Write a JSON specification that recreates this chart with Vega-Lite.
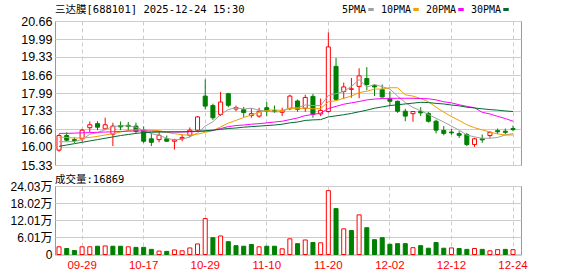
{
"$schema":"https://vega.github.io/schema/vega-lite/v6.json",
"padding":{"left":9,"top":4,"right":0,"bottom":0},
"background":"white",
"bounds":"flush",
"spacing":21,
"config":{
"font":"Liberation Sans, Noto Sans CJK SC",
"view":{"stroke":"#999999","strokeWidth":1},
"axis":{"domain":false,"ticks":false,"gridColor":"#cccccc","gridWidth":1,"labelColor":"#000000","labelFont":"Liberation Sans, Noto Sans CJK SC","labelOverlap":false,"labelFlush":false},
"title":{"font":"DejaVu Sans Mono, Noto Sans CJK SC","fontSize":10.5,"fontWeight":"normal","color":"#000000","anchor":"start","frame":"group"}
},
"datasets":{"k":[
{"d":"09-24","o":15.88,"h":16.48,"l":15.82,"c":16.42,"v":2.7,"cd":"up","vd":"up","5PMA":16.19,"10PMA":16.36,"20PMA":16.50,"30PMA":16.02},
{"d":"09-25","o":16.42,"h":16.54,"l":16.20,"c":16.25,"v":2.1,"cd":"dn","vd":"dn","5PMA":16.19,"10PMA":16.35,"20PMA":16.50,"30PMA":16.07},
{"d":"09-26","o":16.27,"h":16.35,"l":16.15,"c":16.23,"v":1.4,"cd":"dn","vd":"dn","5PMA":16.20,"10PMA":16.33,"20PMA":16.51,"30PMA":16.12},
{"d":"09-29","o":16.30,"h":16.67,"l":16.20,"c":16.62,"v":2.7,"cd":"up","vd":"up","5PMA":16.27,"10PMA":16.33,"20PMA":16.52,"30PMA":16.17},
{"d":"09-30","o":16.71,"h":16.94,"l":16.55,"c":16.82,"v":2.7,"cd":"up","vd":"up","5PMA":16.47,"10PMA":16.35,"20PMA":16.53,"30PMA":16.22},
{"d":"10-09","o":16.86,"h":16.95,"l":16.62,"c":16.73,"v":2.9,"cd":"dn","vd":"dn","5PMA":16.53,"10PMA":16.39,"20PMA":16.54,"30PMA":16.27},
{"d":"10-10","o":16.67,"h":17.08,"l":16.62,"c":16.82,"v":3.0,"cd":"up","vd":"up","5PMA":16.64,"10PMA":16.44,"20PMA":16.55,"30PMA":16.32},
{"d":"10-13","o":16.47,"h":16.89,"l":16.03,"c":16.77,"v":2.9,"cd":"up","vd":"dn","5PMA":16.75,"10PMA":16.49,"20PMA":16.56,"30PMA":16.37},
{"d":"10-14","o":16.79,"h":16.94,"l":16.62,"c":16.74,"v":2.9,"cd":"dn","vd":"dn","5PMA":16.78,"10PMA":16.55,"20PMA":16.57,"30PMA":16.42},
{"d":"10-15","o":16.80,"h":16.92,"l":16.60,"c":16.76,"v":2.7,"cd":"dn","vd":"up","5PMA":16.78,"10PMA":16.61,"20PMA":16.58,"30PMA":16.46},
{"d":"10-16","o":16.77,"h":16.90,"l":16.50,"c":16.57,"v":2.5,"cd":"dn","vd":"dn","5PMA":16.73,"10PMA":16.63,"20PMA":16.59,"30PMA":16.50},
{"d":"10-17","o":16.62,"h":16.76,"l":16.14,"c":16.21,"v":2.5,"cd":"dn","vd":"dn","5PMA":16.61,"10PMA":16.63,"20PMA":16.59,"30PMA":16.53},
{"d":"10-20","o":16.30,"h":16.52,"l":16.03,"c":16.17,"v":1.8,"cd":"dn","vd":"dn","5PMA":16.49,"10PMA":16.62,"20PMA":16.58,"30PMA":16.54},
{"d":"10-21","o":16.27,"h":16.58,"l":16.17,"c":16.43,"v":1.2,"cd":"up","vd":"up","5PMA":16.43,"10PMA":16.60,"20PMA":16.57,"30PMA":16.55},
{"d":"10-22","o":16.30,"h":16.42,"l":16.18,"c":16.21,"v":1.1,"cd":"dn","vd":"dn","5PMA":16.32,"10PMA":16.54,"20PMA":16.56,"30PMA":16.55},
{"d":"10-23","o":16.21,"h":16.30,"l":15.90,"c":16.26,"v":1.6,"cd":"up","vd":"up","5PMA":16.26,"10PMA":16.49,"20PMA":16.55,"30PMA":16.56},
{"d":"10-24","o":16.30,"h":16.45,"l":16.21,"c":16.35,"v":1.3,"cd":"up","vd":"up","5PMA":16.28,"10PMA":16.45,"20PMA":16.55,"30PMA":16.56},
{"d":"10-27","o":16.43,"h":16.72,"l":16.35,"c":16.62,"v":2.3,"cd":"up","vd":"up","5PMA":16.37,"10PMA":16.43,"20PMA":16.56,"30PMA":16.57},
{"d":"10-28","o":16.62,"h":17.14,"l":16.56,"c":17.11,"v":3.7,"cd":"up","vd":"up","5PMA":16.51,"10PMA":16.47,"20PMA":16.57,"30PMA":16.58},
{"d":"10-29","o":17.88,"h":18.50,"l":17.39,"c":17.51,"v":12.6,"cd":"dn","vd":"up","5PMA":16.77,"10PMA":16.54,"20PMA":16.58,"30PMA":16.60},
{"d":"10-30","o":17.53,"h":17.60,"l":17.00,"c":17.08,"v":5.9,"cd":"dn","vd":"dn","5PMA":16.93,"10PMA":16.60,"20PMA":16.61,"30PMA":16.62},
{"d":"10-31","o":17.20,"h":18.04,"l":17.14,"c":17.66,"v":6.5,"cd":"up","vd":"up","5PMA":17.20,"10PMA":16.74,"20PMA":16.68,"30PMA":16.65},
{"d":"11-03","o":17.97,"h":18.00,"l":17.47,"c":17.54,"v":4.5,"cd":"dn","vd":"dn","5PMA":17.38,"10PMA":16.88,"20PMA":16.75,"30PMA":16.68},
{"d":"11-04","o":17.40,"h":17.53,"l":17.32,"c":17.46,"v":3.1,"cd":"up","vd":"dn","5PMA":17.45,"10PMA":16.98,"20PMA":16.79,"30PMA":16.70},
{"d":"11-05","o":17.38,"h":17.48,"l":17.11,"c":17.27,"v":2.9,"cd":"dn","vd":"dn","5PMA":17.40,"10PMA":17.09,"20PMA":16.81,"30PMA":16.73},
{"d":"11-06","o":17.16,"h":17.43,"l":17.08,"c":17.23,"v":3.5,"cd":"up","vd":"dn","5PMA":17.43,"10PMA":17.18,"20PMA":16.84,"30PMA":16.75},
{"d":"11-07","o":17.14,"h":17.45,"l":17.08,"c":17.32,"v":2.7,"cd":"up","vd":"up","5PMA":17.36,"10PMA":17.28,"20PMA":16.86,"30PMA":16.77},
{"d":"11-10","o":17.45,"h":17.66,"l":17.14,"c":17.32,"v":2.9,"cd":"dn","vd":"dn","5PMA":17.32,"10PMA":17.35,"20PMA":16.89,"30PMA":16.79},
{"d":"11-11","o":17.34,"h":17.53,"l":17.26,"c":17.32,"v":2.9,"cd":"dn","vd":"dn","5PMA":17.29,"10PMA":17.37,"20PMA":16.92,"30PMA":16.81},
{"d":"11-12","o":17.28,"h":17.45,"l":17.14,"c":17.34,"v":2.0,"cd":"up","vd":"up","5PMA":17.31,"10PMA":17.35,"20PMA":16.95,"30PMA":16.84},
{"d":"11-13","o":17.41,"h":17.93,"l":17.36,"c":17.88,"v":5.5,"cd":"up","vd":"up","5PMA":17.44,"10PMA":17.43,"20PMA":17.01,"30PMA":16.89},
{"d":"11-14","o":17.70,"h":17.75,"l":17.30,"c":17.39,"v":3.8,"cd":"dn","vd":"dn","5PMA":17.45,"10PMA":17.41,"20PMA":17.07,"30PMA":16.92},
{"d":"11-17","o":17.43,"h":17.93,"l":17.30,"c":17.83,"v":5.1,"cd":"up","vd":"up","5PMA":17.55,"10PMA":17.44,"20PMA":17.16,"30PMA":16.98},
{"d":"11-18","o":17.87,"h":17.96,"l":17.08,"c":17.21,"v":4.2,"cd":"dn","vd":"dn","5PMA":17.53,"10PMA":17.41,"20PMA":17.20,"30PMA":17.00},
{"d":"11-19","o":17.22,"h":17.79,"l":17.14,"c":17.35,"v":4.1,"cd":"up","vd":"up","5PMA":17.53,"10PMA":17.42,"20PMA":17.25,"30PMA":17.01},
{"d":"11-20","o":17.31,"h":20.24,"l":17.27,"c":19.70,"v":22.4,"cd":"up","vd":"up","5PMA":17.90,"10PMA":17.67,"20PMA":17.42,"30PMA":17.11},
{"d":"11-21","o":18.98,"h":19.29,"l":17.71,"c":17.76,"v":16.1,"cd":"dn","vd":"dn","5PMA":17.97,"10PMA":17.71,"20PMA":17.50,"30PMA":17.15},
{"d":"11-24","o":18.05,"h":18.38,"l":17.77,"c":18.22,"v":9.0,"cd":"up","vd":"up","5PMA":18.05,"10PMA":17.80,"20PMA":17.58,"30PMA":17.19},
{"d":"11-25","o":18.13,"h":18.55,"l":17.82,"c":18.15,"v":8.4,"cd":"up","vd":"dn","5PMA":18.24,"10PMA":17.88,"20PMA":17.63,"30PMA":17.24},
{"d":"11-26","o":18.24,"h":18.91,"l":17.80,"c":18.63,"v":13.9,"cd":"up","vd":"up","5PMA":18.49,"10PMA":18.01,"20PMA":17.68,"30PMA":17.30},
{"d":"11-27","o":18.53,"h":18.95,"l":18.10,"c":18.31,"v":9.4,"cd":"dn","vd":"dn","5PMA":18.21,"10PMA":18.06,"20PMA":17.74,"30PMA":17.36},
{"d":"11-28","o":18.27,"h":18.32,"l":17.88,"c":18.22,"v":5.2,"cd":"dn","vd":"dn","5PMA":18.31,"10PMA":18.14,"20PMA":17.77,"30PMA":17.43},
{"d":"12-01","o":18.12,"h":18.31,"l":17.82,"c":17.85,"v":5.9,"cd":"dn","vd":"dn","5PMA":18.23,"10PMA":18.14,"20PMA":17.79,"30PMA":17.48},
{"d":"12-02","o":17.78,"h":18.06,"l":17.51,"c":17.69,"v":3.6,"cd":"dn","vd":"dn","5PMA":18.14,"10PMA":18.19,"20PMA":17.80,"30PMA":17.53},
{"d":"12-03","o":17.69,"h":17.71,"l":17.26,"c":17.32,"v":3.8,"cd":"dn","vd":"dn","5PMA":17.88,"10PMA":18.19,"20PMA":17.80,"30PMA":17.56},
{"d":"12-04","o":17.32,"h":17.41,"l":16.95,"c":17.14,"v":3.8,"cd":"dn","vd":"dn","5PMA":17.64,"10PMA":17.93,"20PMA":17.80,"30PMA":17.59},
{"d":"12-05","o":17.23,"h":17.31,"l":16.93,"c":17.31,"v":2.4,"cd":"up","vd":"up","5PMA":17.46,"10PMA":17.88,"20PMA":17.80,"30PMA":17.62},
{"d":"12-08","o":17.32,"h":17.47,"l":17.14,"c":17.26,"v":3.1,"cd":"dn","vd":"dn","5PMA":17.34,"10PMA":17.79,"20PMA":17.79,"30PMA":17.65},
{"d":"12-09","o":17.24,"h":17.29,"l":16.90,"c":16.95,"v":2.2,"cd":"dn","vd":"dn","5PMA":17.20,"10PMA":17.67,"20PMA":17.78,"30PMA":17.64},
{"d":"12-10","o":16.95,"h":17.01,"l":16.50,"c":16.62,"v":4.2,"cd":"dn","vd":"dn","5PMA":17.06,"10PMA":17.47,"20PMA":17.74,"30PMA":17.61},
{"d":"12-11","o":16.61,"h":16.77,"l":16.43,"c":16.50,"v":2.2,"cd":"dn","vd":"dn","5PMA":16.92,"10PMA":17.29,"20PMA":17.67,"30PMA":17.59},
{"d":"12-12","o":16.55,"h":16.66,"l":16.45,"c":16.52,"v":2.3,"cd":"dn","vd":"up","5PMA":16.77,"10PMA":17.12,"20PMA":17.63,"30PMA":17.55},
{"d":"12-15","o":16.49,"h":16.58,"l":16.33,"c":16.43,"v":2.1,"cd":"dn","vd":"dn","5PMA":16.62,"10PMA":16.98,"20PMA":17.56,"30PMA":17.52},
{"d":"12-16","o":16.46,"h":16.52,"l":16.03,"c":16.09,"v":1.8,"cd":"dn","vd":"dn","5PMA":16.44,"10PMA":16.82,"20PMA":17.50,"30PMA":17.47},
{"d":"12-17","o":16.09,"h":16.34,"l":16.00,"c":16.30,"v":2.1,"cd":"up","vd":"up","5PMA":16.37,"10PMA":16.71,"20PMA":17.45,"30PMA":17.44},
{"d":"12-18","o":16.30,"h":16.46,"l":16.15,"c":16.26,"v":1.8,"cd":"dn","vd":"dn","5PMA":16.32,"10PMA":16.63,"20PMA":17.28,"30PMA":17.41},
{"d":"12-19","o":16.42,"h":16.58,"l":16.33,"c":16.54,"v":1.3,"cd":"up","vd":"up","5PMA":16.32,"10PMA":16.55,"20PMA":17.22,"30PMA":17.38},
{"d":"12-22","o":16.60,"h":16.68,"l":16.48,"c":16.56,"v":1.7,"cd":"dn","vd":"up","5PMA":16.35,"10PMA":16.48,"20PMA":17.13,"30PMA":17.36},
{"d":"12-23","o":16.58,"h":16.68,"l":16.47,"c":16.54,"v":1.8,"cd":"dn","vd":"dn","5PMA":16.44,"10PMA":16.44,"20PMA":17.05,"30PMA":17.33},
{"d":"12-24","o":16.68,"h":16.79,"l":16.58,"c":16.64,"v":1.69,"cd":"dn","vd":"up","5PMA":16.49,"10PMA":16.44,"20PMA":16.95,"30PMA":17.31}
]},
"vconcat":[
{
"width":466,"height":144,
"data":{"name":"k"},
"title":{"text":"三达膜[688101] 2025-12-24 15:30","offset":0},
"encoding":{"x":{"field":"d","type":"ordinal","sort":null,"title":null,
"scale":{"paddingInner":0.3,"paddingOuter":0.43,"align":0.2},
"axis":{"labels":false,"grid":true,"gridDash":[4,3],"bandPosition":0.5,"values":["09-29","10-17","10-29","11-10","11-20","12-02","12-12","12-24"]}}},
"layer":[
{"mark":{"type":"rule","strokeWidth":1},
"encoding":{
"y":{"field":"l","type":"quantitative","title":null,"scale":{"domain":[15.33,20.66],"nice":false,"zero":false},
"axis":{"values":[15.33,16.0,16.66,17.33,17.99,18.66,19.33,19.99,20.66],"tickCount":20,"grid":true,"labelOverlap":false,"format":".2f","labelFontSize":12.5,"labelPadding":3}},
"y2":{"field":"h"},
"stroke":{"field":"cd","type":"nominal","scale":{"domain":["up","dn"],"range":["#ff0000","#008000"]},"legend":null}}},
{"mark":{"type":"bar","strokeWidth":1,"width":{"band":0.75}},
"encoding":{
"y":{"field":"o","type":"quantitative","title":null},
"y2":{"field":"c"},
"fill":{"field":"cd","type":"nominal","scale":{"domain":["up","dn"],"range":["#ffffff","#008000"]},"legend":null},
"stroke":{"field":"cd","type":"nominal","legend":null}}},
{"transform":[{"fold":["5PMA","10PMA","20PMA","30PMA"],"as":["ma","val"]}],
"mark":{"type":"line","strokeWidth":1},
"encoding":{
"y":{"field":"val","type":"quantitative","title":null},
"color":{"field":"ma","type":"nominal","scale":{"domain":["5PMA","10PMA","20PMA","30PMA"],"range":["#a0a0a0","#f0a000","#ff00ff","#006a32"]},
"legend":{"orient":"none","legendX":311,"legendY":-16.5,"direction":"horizontal","title":null,"symbolType":"stroke","symbolStrokeWidth":3,"symbolSize":30,"labelAlign":"right","labelOffset":-10,"columnPadding":0,"labelFont":"DejaVu Sans Mono","labelFontSize":10,"labelColor":"#000000"}}}}
]
},
{
"width":466,"height":68.5,
"data":{"name":"k"},
"title":{"text":"成交量:16869","offset":-5},
"mark":{"type":"bar","strokeWidth":1,"width":{"band":0.75}},
"encoding":{
"x":{"field":"d","type":"ordinal","sort":null,"title":null,
"scale":{"paddingInner":0.3,"paddingOuter":0.43,"align":0.2},
"axis":{"labelAngle":0,"labelColor":"#ff0000","labelFontSize":11.5,"labelPadding":5,"grid":true,"gridDash":[4,3],"bandPosition":0.5,"values":["09-29","10-17","10-29","11-10","11-20","12-02","12-12","12-24"]}},
"y":{"field":"v","type":"quantitative","title":null,"scale":{"domain":[0,24.03],"nice":false},
"axis":{"values":[0,6.01,12.01,18.02,24.03],"tickCount":20,"grid":true,"labelExpr":"datum.value == 0 ? '0' : format(datum.value, '.2f') + '万'","labelFontSize":12,"labelPadding":3}},
"fill":{"field":"vd","type":"nominal","scale":{"domain":["up","dn"],"range":["#ffffff","#008000"]},"legend":null},
"stroke":{"field":"vd","type":"nominal","scale":{"domain":["up","dn"],"range":["#ff0000","#008000"]},"legend":null}
}
}
]
}
